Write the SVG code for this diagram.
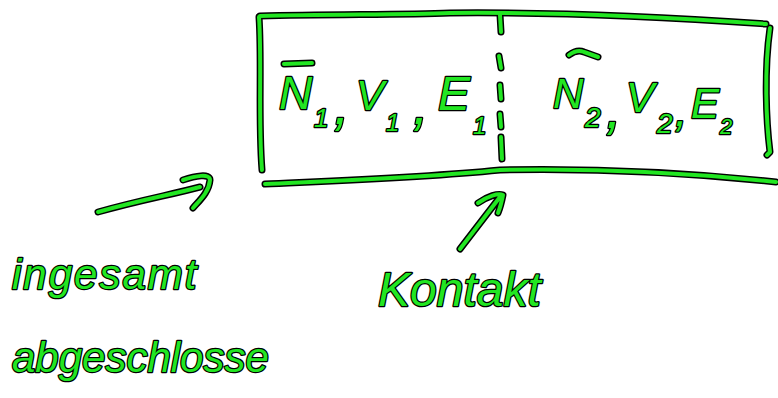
<svg xmlns="http://www.w3.org/2000/svg" xmlns:xlink="http://www.w3.org/1999/xlink" width="778" height="398" viewBox="0 0 778 398">
<style>
.o{fill:none;stroke:#000;stroke-width:7;stroke-linecap:round;stroke-linejoin:round}
.g{fill:none;stroke:#22e622;stroke-width:4;stroke-linecap:round;stroke-linejoin:round}
.t{font-family:"Liberation Sans",sans-serif;font-style:italic;fill:#22e622;stroke:#000;stroke-width:2.5;paint-order:stroke;stroke-linejoin:round}
</style>
<defs>
<g id="box">
<path d="M260,16 C330,14 400,15 450,13 C550,12 650,16 766,24"/>
<path d="M259,17 C262,60 258,120 262,170"/>
<path d="M770,28 C764,70 766,120 770,152 L767,155"/>
<path d="M265,184 C330,181 420,178 500,170 C600,168 700,174 776,182"/>
<path d="M500,15 L501,32 M499,56 L501,68 M500,85 L501,99 M500,114 L501,127 M501,137 L502,159"/>
<path d="M284,64 L312,63"/>
<path d="M569,55 Q577,49 584,52 L598,57"/>
</g>
<g id="arrows">
<path d="M98,212 C140,200 170,195 200,187 M183,180 C195,176 210,173 210,180 C209,192 200,200 193,208"/>
<path d="M460,249 L500,197 M478,203 C488,196 498,193 503,195 C502,200 500,208 498,213"/>
</g>
</defs>
<g id="container">
<use xlink:href="#box" class="o"/>
<use xlink:href="#box" class="g"/>
</g>
<g id="connectors">
<use xlink:href="#arrows" class="o"/>
<use xlink:href="#arrows" class="g"/>
</g>
<g id="subsystem1">
<text class="t"><tspan x="279" y="109" font-size="46">N</tspan><tspan x="314" y="127" font-size="26">1</tspan><tspan x="334" y="124" font-size="56">,</tspan><tspan x="356" y="110" font-size="42">V</tspan><tspan x="386" y="131" font-size="24">1</tspan><tspan x="413" y="124" font-size="56">,</tspan><tspan x="438" y="110" font-size="48">E</tspan><tspan x="473" y="134" font-size="24">1</tspan></text>
</g>
<g id="subsystem2">
<text class="t"><tspan x="553" y="108" font-size="42">N</tspan><tspan x="585" y="127" font-size="28">2</tspan><tspan x="606" y="128" font-size="56">,</tspan><tspan x="626" y="112" font-size="42">V</tspan><tspan x="657" y="133" font-size="28">2</tspan><tspan x="675" y="126" font-size="44">,</tspan><tspan x="691" y="118" font-size="42">E</tspan><tspan x="720" y="134" font-size="22">2</tspan></text>
</g>
<g id="label-kontakt">
<text class="t" x="378" y="306" font-size="48">Kontakt</text>
</g>
<g id="label-abgeschlossen">
<text class="t" x="12" y="289" font-size="42" letter-spacing="2">ingesamt</text>
<text class="t" x="12" y="372" font-size="42" letter-spacing="0">abgeschlosse</text>
</g>
</svg>
